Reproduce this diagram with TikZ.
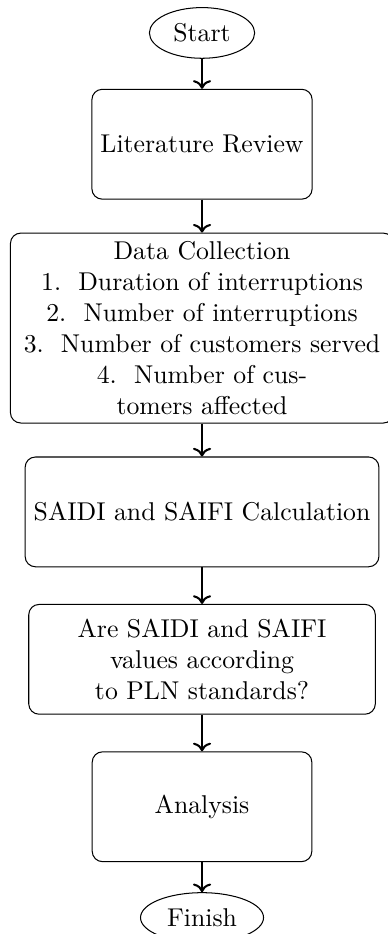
\documentclass[tikz,border=0pt]{standalone}
\usepackage{tikz}
\usetikzlibrary{positioning,shapes.geometric,arrows.meta}
\tikzset{startstop/.style={draw,ellipse,align=center},
         process/.style={draw,rectangle,rounded corners,minimum width=3cm,minimum height=1.5cm,align=center},
         flowarrow/.style={->,thick}}

\begin{document}
\begin{tikzpicture}[node distance=0.45cm]
        \useasboundingbox (0,0) rectangle (5.30,-12.76);
        %Terminals and steps
        \node[startstop] (start) at (2.76,-0.45) {Start};
        \node[process, below=0.41cm of start] (review) {Literature Review};
        \node[process, below=of review, text width=5cm] (data) {Data Collection\\
            1.~~Duration of interruptions\\
            2.~~Number of interruptions\\
            3.~~Number of customers served\\
            4.~~Number of cus-\\
            tomers affected};
        \node[process, below=of data] (calc) {SAIDI and SAIFI Calculation};
        \node[process, below=0.5cm of calc, text width=4.5cm] (check) {Are SAIDI and SAIFI\\values according\\to PLN standards?};
        \node[process, below=0.5cm of check] (analysis) {Analysis};
        \node[startstop, below=0.41cm of analysis] (finish) {Finish};
        %Flow
        \draw[flowarrow] (start) -- (review);
        \draw[flowarrow] (review) -- (data);
        \draw[flowarrow] (data) -- (calc);
        \draw[flowarrow] (calc) -- (check);
        \draw[flowarrow] (check) -- (analysis);
        \draw[flowarrow] (analysis) -- (finish);
\end{tikzpicture}
\end{document}
